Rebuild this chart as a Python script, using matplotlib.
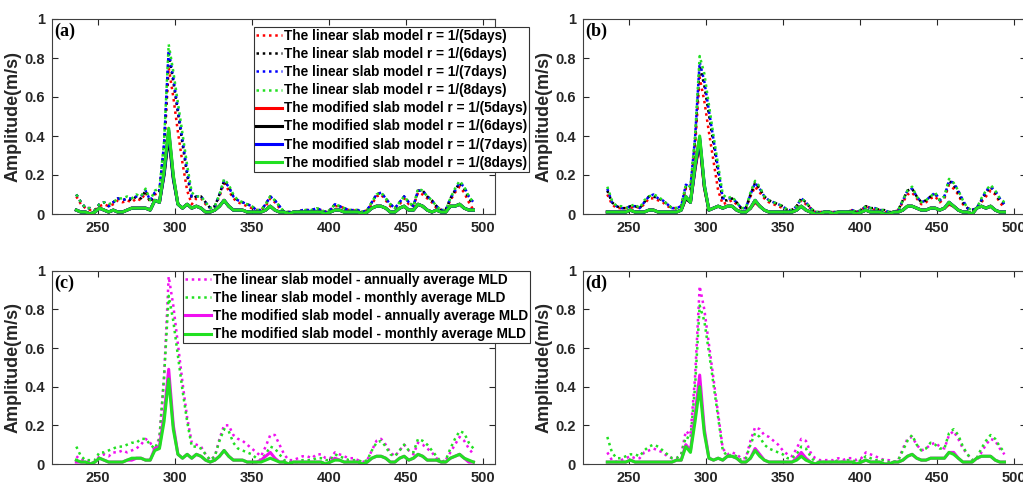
import numpy as np
import matplotlib
matplotlib.use('Agg')
import matplotlib.pyplot as plt

# sample days (x axis), every 3 days
DAYS = np.arange(236, 495, 3)

# ---- panel (a): linear slab model, r = 1/(5,6,7,8 days)
A_LIN_5 = [0.09, 0.05, 0.03, 0.02, 0.02, 0.04, 0.05, 0.04, 0.05, 0.07,
           0.06, 0.07, 0.06, 0.08, 0.07, 0.11, 0.06, 0.10, 0.11, 0.32,
           0.75, 0.60, 0.42, 0.26, 0.12, 0.05, 0.08, 0.08, 0.05, 0.03,
           0.04, 0.09, 0.16, 0.12, 0.08, 0.06, 0.05, 0.04, 0.03, 0.02,
           0.02, 0.04, 0.08, 0.06, 0.03, 0.01, 0.01, 0.01, 0.01, 0.02,
           0.02, 0.02, 0.02, 0.02, 0.01, 0.02, 0.04, 0.04, 0.03, 0.02,
           0.02, 0.01, 0.01, 0.02, 0.05, 0.09, 0.10, 0.07, 0.04, 0.03,
           0.05, 0.08, 0.05, 0.04, 0.11, 0.10, 0.08, 0.06, 0.03, 0.02,
           0.02, 0.07, 0.11, 0.14, 0.11, 0.06, 0.02]
A_LIN_6 = [0.10, 0.06, 0.03, 0.03, 0.02, 0.05, 0.06, 0.04, 0.06, 0.08,
           0.07, 0.08, 0.07, 0.09, 0.08, 0.12, 0.06, 0.11, 0.12, 0.35,
           0.82, 0.68, 0.52, 0.36, 0.20, 0.08, 0.09, 0.09, 0.06, 0.03,
           0.04, 0.10, 0.17, 0.14, 0.09, 0.07, 0.06, 0.05, 0.04, 0.02,
           0.02, 0.05, 0.09, 0.07, 0.04, 0.01, 0.01, 0.01, 0.01, 0.02,
           0.02, 0.02, 0.03, 0.02, 0.01, 0.02, 0.05, 0.04, 0.03, 0.02,
           0.02, 0.02, 0.01, 0.02, 0.06, 0.10, 0.11, 0.08, 0.05, 0.03,
           0.06, 0.09, 0.06, 0.04, 0.12, 0.12, 0.09, 0.07, 0.04, 0.02,
           0.02, 0.08, 0.12, 0.16, 0.13, 0.08, 0.05]
A_LIN_7 = [0.10, 0.06, 0.03, 0.03, 0.02, 0.05, 0.06, 0.04, 0.06, 0.08,
           0.07, 0.08, 0.08, 0.09, 0.09, 0.12, 0.07, 0.11, 0.12, 0.36,
           0.84, 0.70, 0.54, 0.38, 0.22, 0.09, 0.09, 0.09, 0.06, 0.03,
           0.04, 0.10, 0.17, 0.14, 0.09, 0.07, 0.06, 0.05, 0.04, 0.02,
           0.02, 0.05, 0.09, 0.07, 0.04, 0.01, 0.01, 0.01, 0.01, 0.02,
           0.02, 0.02, 0.03, 0.02, 0.01, 0.02, 0.05, 0.04, 0.03, 0.02,
           0.02, 0.02, 0.01, 0.02, 0.06, 0.10, 0.11, 0.08, 0.05, 0.03,
           0.06, 0.09, 0.06, 0.04, 0.12, 0.12, 0.09, 0.07, 0.04, 0.02,
           0.02, 0.08, 0.12, 0.16, 0.14, 0.09, 0.06]
A_LIN_8 = [0.10, 0.06, 0.03, 0.03, 0.02, 0.05, 0.06, 0.05, 0.06, 0.08,
           0.08, 0.09, 0.08, 0.10, 0.09, 0.13, 0.07, 0.12, 0.13, 0.37,
           0.87, 0.73, 0.57, 0.41, 0.25, 0.11, 0.09, 0.09, 0.06, 0.03,
           0.04, 0.10, 0.18, 0.15, 0.10, 0.07, 0.06, 0.05, 0.04, 0.02,
           0.02, 0.05, 0.09, 0.07, 0.04, 0.01, 0.01, 0.01, 0.01, 0.02,
           0.02, 0.02, 0.03, 0.02, 0.01, 0.02, 0.05, 0.04, 0.03, 0.02,
           0.02, 0.02, 0.01, 0.02, 0.06, 0.10, 0.11, 0.08, 0.05, 0.03,
           0.06, 0.09, 0.06, 0.04, 0.13, 0.12, 0.09, 0.07, 0.04, 0.02,
           0.02, 0.08, 0.13, 0.17, 0.14, 0.09, 0.06]

# ---- panel (a): modified slab model
A_MOD_5 = [0.02, 0.01, 0.01, 0.00, 0.01, 0.03, 0.02, 0.01, 0.02, 0.01,
           0.01, 0.02, 0.03, 0.03, 0.03, 0.03, 0.02, 0.07, 0.06, 0.21,
           0.42, 0.19, 0.05, 0.03, 0.05, 0.03, 0.04, 0.03, 0.01, 0.01,
           0.02, 0.04, 0.07, 0.04, 0.02, 0.02, 0.02, 0.01, 0.01, 0.01,
           0.01, 0.02, 0.04, 0.02, 0.01, 0.01, 0.00, 0.01, 0.01, 0.01,
           0.01, 0.01, 0.01, 0.01, 0.00, 0.01, 0.02, 0.02, 0.01, 0.01,
           0.01, 0.01, 0.00, 0.01, 0.03, 0.04, 0.04, 0.03, 0.01, 0.01,
           0.03, 0.04, 0.02, 0.02, 0.05, 0.04, 0.02, 0.01, 0.02, 0.01,
           0.01, 0.04, 0.04, 0.05, 0.03, 0.02, 0.02]
A_MOD_6 = [0.02, 0.01, 0.01, 0.00, 0.01, 0.03, 0.02, 0.01, 0.02, 0.01,
           0.01, 0.02, 0.03, 0.03, 0.03, 0.03, 0.02, 0.07, 0.06, 0.20,
           0.40, 0.18, 0.05, 0.03, 0.05, 0.03, 0.04, 0.03, 0.01, 0.01,
           0.02, 0.04, 0.07, 0.04, 0.02, 0.02, 0.02, 0.01, 0.01, 0.01,
           0.01, 0.02, 0.04, 0.02, 0.01, 0.01, 0.00, 0.01, 0.01, 0.01,
           0.01, 0.01, 0.01, 0.01, 0.00, 0.01, 0.02, 0.02, 0.01, 0.01,
           0.01, 0.01, 0.00, 0.01, 0.03, 0.04, 0.04, 0.03, 0.01, 0.01,
           0.03, 0.04, 0.02, 0.02, 0.05, 0.04, 0.02, 0.01, 0.02, 0.01,
           0.01, 0.04, 0.04, 0.05, 0.03, 0.02, 0.02]
A_MOD_7 = [0.02, 0.01, 0.01, 0.00, 0.01, 0.03, 0.02, 0.01, 0.02, 0.01,
           0.01, 0.02, 0.03, 0.03, 0.03, 0.03, 0.02, 0.07, 0.06, 0.21,
           0.43, 0.19, 0.05, 0.03, 0.05, 0.03, 0.04, 0.03, 0.01, 0.01,
           0.02, 0.04, 0.07, 0.04, 0.02, 0.02, 0.02, 0.01, 0.01, 0.01,
           0.01, 0.02, 0.04, 0.02, 0.01, 0.01, 0.00, 0.01, 0.01, 0.01,
           0.01, 0.01, 0.01, 0.01, 0.00, 0.01, 0.02, 0.02, 0.01, 0.01,
           0.01, 0.01, 0.00, 0.01, 0.03, 0.04, 0.04, 0.03, 0.01, 0.01,
           0.03, 0.04, 0.02, 0.02, 0.05, 0.04, 0.02, 0.01, 0.02, 0.01,
           0.01, 0.04, 0.04, 0.05, 0.03, 0.02, 0.02]
A_MOD_8 = [0.02, 0.01, 0.01, 0.00, 0.01, 0.03, 0.02, 0.01, 0.02, 0.01,
           0.01, 0.02, 0.03, 0.03, 0.03, 0.03, 0.02, 0.07, 0.06, 0.22,
           0.44, 0.20, 0.05, 0.03, 0.05, 0.03, 0.04, 0.03, 0.01, 0.01,
           0.02, 0.04, 0.07, 0.04, 0.02, 0.02, 0.02, 0.01, 0.01, 0.01,
           0.01, 0.02, 0.04, 0.02, 0.01, 0.01, 0.00, 0.01, 0.01, 0.01,
           0.01, 0.01, 0.01, 0.01, 0.00, 0.01, 0.02, 0.02, 0.01, 0.01,
           0.01, 0.01, 0.00, 0.01, 0.03, 0.04, 0.04, 0.03, 0.01, 0.01,
           0.03, 0.04, 0.02, 0.02, 0.05, 0.04, 0.02, 0.01, 0.02, 0.01,
           0.01, 0.04, 0.04, 0.05, 0.03, 0.02, 0.02]

# ---- panel (b): linear slab model
B_LIN_5 = [0.10, 0.05, 0.03, 0.03, 0.03, 0.03, 0.04, 0.03, 0.05, 0.08,
           0.08, 0.07, 0.06, 0.04, 0.03, 0.03, 0.04, 0.13, 0.12, 0.35,
           0.70, 0.58, 0.42, 0.27, 0.12, 0.05, 0.06, 0.07, 0.05, 0.03,
           0.03, 0.09, 0.14, 0.11, 0.08, 0.06, 0.05, 0.04, 0.03, 0.02,
           0.02, 0.04, 0.07, 0.05, 0.03, 0.01, 0.01, 0.01, 0.01, 0.01,
           0.01, 0.01, 0.01, 0.02, 0.01, 0.02, 0.04, 0.03, 0.02, 0.02,
           0.01, 0.01, 0.01, 0.02, 0.06, 0.10, 0.11, 0.08, 0.05, 0.06,
           0.08, 0.09, 0.06, 0.08, 0.15, 0.13, 0.10, 0.05, 0.03, 0.02,
           0.03, 0.06, 0.09, 0.12, 0.10, 0.06, 0.03]
B_LIN_6 = [0.12, 0.06, 0.04, 0.03, 0.03, 0.04, 0.04, 0.03, 0.06, 0.09,
           0.09, 0.08, 0.07, 0.05, 0.03, 0.03, 0.04, 0.14, 0.13, 0.38,
           0.76, 0.66, 0.51, 0.36, 0.21, 0.07, 0.07, 0.08, 0.06, 0.03,
           0.03, 0.10, 0.16, 0.13, 0.09, 0.07, 0.06, 0.05, 0.04, 0.02,
           0.02, 0.04, 0.08, 0.06, 0.03, 0.01, 0.01, 0.01, 0.01, 0.01,
           0.01, 0.01, 0.01, 0.02, 0.01, 0.02, 0.04, 0.03, 0.03, 0.02,
           0.02, 0.01, 0.01, 0.02, 0.07, 0.12, 0.13, 0.09, 0.06, 0.07,
           0.09, 0.10, 0.07, 0.09, 0.17, 0.15, 0.11, 0.06, 0.03, 0.02,
           0.03, 0.07, 0.11, 0.14, 0.11, 0.07, 0.05]
B_LIN_7 = [0.13, 0.06, 0.04, 0.03, 0.03, 0.04, 0.04, 0.03, 0.06, 0.09,
           0.10, 0.08, 0.07, 0.05, 0.03, 0.03, 0.04, 0.15, 0.14, 0.39,
           0.78, 0.68, 0.53, 0.38, 0.23, 0.08, 0.08, 0.08, 0.06, 0.03,
           0.03, 0.10, 0.16, 0.13, 0.09, 0.07, 0.06, 0.05, 0.04, 0.02,
           0.02, 0.04, 0.08, 0.06, 0.03, 0.01, 0.01, 0.01, 0.01, 0.01,
           0.01, 0.01, 0.01, 0.02, 0.01, 0.02, 0.04, 0.03, 0.03, 0.02,
           0.02, 0.01, 0.01, 0.02, 0.07, 0.12, 0.13, 0.09, 0.06, 0.07,
           0.09, 0.11, 0.07, 0.09, 0.17, 0.16, 0.12, 0.07, 0.03, 0.02,
           0.03, 0.07, 0.12, 0.14, 0.12, 0.08, 0.05]
B_LIN_8 = [0.14, 0.07, 0.04, 0.04, 0.03, 0.04, 0.05, 0.03, 0.07, 0.09,
           0.10, 0.09, 0.07, 0.05, 0.03, 0.03, 0.04, 0.15, 0.14, 0.40,
           0.81, 0.72, 0.56, 0.40, 0.25, 0.10, 0.08, 0.09, 0.06, 0.03,
           0.03, 0.11, 0.17, 0.14, 0.09, 0.07, 0.06, 0.05, 0.04, 0.02,
           0.02, 0.04, 0.08, 0.06, 0.03, 0.01, 0.01, 0.01, 0.01, 0.01,
           0.01, 0.01, 0.01, 0.02, 0.01, 0.02, 0.04, 0.03, 0.03, 0.02,
           0.02, 0.01, 0.01, 0.02, 0.07, 0.12, 0.14, 0.09, 0.06, 0.07,
           0.09, 0.11, 0.07, 0.09, 0.18, 0.16, 0.12, 0.07, 0.03, 0.02,
           0.03, 0.08, 0.12, 0.15, 0.12, 0.08, 0.06]

# ---- panel (b): modified slab model
B_MOD_5 = [0.01, 0.01, 0.01, 0.01, 0.01, 0.02, 0.01, 0.01, 0.01, 0.02,
           0.02, 0.01, 0.01, 0.01, 0.01, 0.01, 0.02, 0.08, 0.06, 0.23,
           0.37, 0.14, 0.02, 0.03, 0.04, 0.03, 0.04, 0.04, 0.02, 0.01,
           0.01, 0.03, 0.06, 0.04, 0.02, 0.01, 0.01, 0.01, 0.01, 0.01,
           0.01, 0.02, 0.04, 0.02, 0.01, 0.00, 0.00, 0.01, 0.01, 0.00,
           0.01, 0.01, 0.01, 0.01, 0.00, 0.01, 0.02, 0.01, 0.01, 0.01,
           0.00, 0.00, 0.01, 0.01, 0.02, 0.04, 0.04, 0.03, 0.02, 0.02,
           0.03, 0.03, 0.02, 0.03, 0.05, 0.04, 0.02, 0.01, 0.01, 0.00,
           0.03, 0.04, 0.03, 0.04, 0.02, 0.01, 0.01]
B_MOD_6 = [0.01, 0.01, 0.01, 0.01, 0.01, 0.02, 0.01, 0.01, 0.01, 0.02,
           0.02, 0.01, 0.01, 0.01, 0.01, 0.01, 0.02, 0.08, 0.06, 0.24,
           0.38, 0.14, 0.02, 0.03, 0.04, 0.03, 0.04, 0.04, 0.02, 0.01,
           0.01, 0.03, 0.07, 0.04, 0.02, 0.01, 0.01, 0.01, 0.01, 0.01,
           0.01, 0.02, 0.04, 0.02, 0.01, 0.00, 0.00, 0.01, 0.01, 0.00,
           0.01, 0.01, 0.01, 0.01, 0.00, 0.01, 0.02, 0.01, 0.01, 0.01,
           0.00, 0.00, 0.01, 0.01, 0.02, 0.04, 0.04, 0.03, 0.02, 0.02,
           0.03, 0.03, 0.02, 0.03, 0.06, 0.04, 0.02, 0.01, 0.01, 0.00,
           0.03, 0.04, 0.03, 0.04, 0.02, 0.01, 0.01]
B_MOD_7 = [0.01, 0.01, 0.01, 0.01, 0.01, 0.02, 0.01, 0.01, 0.01, 0.02,
           0.02, 0.01, 0.01, 0.01, 0.01, 0.01, 0.02, 0.09, 0.06, 0.24,
           0.39, 0.15, 0.02, 0.03, 0.04, 0.03, 0.04, 0.04, 0.02, 0.01,
           0.01, 0.03, 0.07, 0.04, 0.02, 0.01, 0.01, 0.01, 0.01, 0.01,
           0.01, 0.02, 0.04, 0.02, 0.01, 0.00, 0.00, 0.01, 0.01, 0.00,
           0.01, 0.01, 0.01, 0.01, 0.00, 0.01, 0.02, 0.01, 0.01, 0.01,
           0.00, 0.00, 0.01, 0.01, 0.02, 0.04, 0.04, 0.03, 0.02, 0.02,
           0.03, 0.03, 0.02, 0.03, 0.06, 0.04, 0.02, 0.01, 0.01, 0.00,
           0.03, 0.04, 0.03, 0.04, 0.02, 0.01, 0.01]
B_MOD_8 = [0.01, 0.01, 0.01, 0.01, 0.01, 0.02, 0.01, 0.01, 0.01, 0.02,
           0.02, 0.01, 0.01, 0.01, 0.01, 0.01, 0.02, 0.09, 0.06, 0.25,
           0.40, 0.15, 0.02, 0.03, 0.04, 0.03, 0.04, 0.04, 0.02, 0.01,
           0.01, 0.03, 0.07, 0.04, 0.02, 0.01, 0.01, 0.01, 0.01, 0.01,
           0.01, 0.02, 0.04, 0.02, 0.01, 0.00, 0.00, 0.01, 0.01, 0.00,
           0.01, 0.01, 0.01, 0.01, 0.00, 0.01, 0.02, 0.01, 0.01, 0.01,
           0.00, 0.00, 0.01, 0.01, 0.02, 0.04, 0.04, 0.03, 0.02, 0.02,
           0.03, 0.03, 0.02, 0.03, 0.06, 0.04, 0.02, 0.01, 0.01, 0.00,
           0.03, 0.04, 0.03, 0.04, 0.02, 0.01, 0.01]

# ---- panel (c): annually / monthly average MLD
C_LIN_ANN = [0.04, 0.02, 0.02, 0.01, 0.01, 0.04, 0.05, 0.04, 0.06, 0.06,
             0.07, 0.06, 0.07, 0.08, 0.10, 0.13, 0.11, 0.07, 0.14, 0.45,
             0.97, 0.82, 0.62, 0.42, 0.24, 0.11, 0.10, 0.09, 0.05, 0.02,
             0.04, 0.13, 0.20, 0.20, 0.15, 0.13, 0.12, 0.10, 0.08, 0.06,
             0.04, 0.09, 0.15, 0.15, 0.10, 0.05, 0.02, 0.02, 0.03, 0.04,
             0.04, 0.03, 0.05, 0.05, 0.03, 0.03, 0.06, 0.05, 0.04, 0.03,
             0.03, 0.02, 0.01, 0.02, 0.07, 0.12, 0.13, 0.10, 0.06, 0.04,
             0.07, 0.10, 0.07, 0.05, 0.11, 0.10, 0.08, 0.06, 0.03, 0.01,
             0.02, 0.06, 0.10, 0.14, 0.12, 0.08, 0.05]
C_LIN_MON = [0.09, 0.04, 0.02, 0.02, 0.02, 0.06, 0.06, 0.07, 0.08, 0.09,
             0.09, 0.10, 0.11, 0.11, 0.13, 0.13, 0.10, 0.08, 0.13, 0.45,
             0.87, 0.74, 0.56, 0.38, 0.22, 0.09, 0.09, 0.08, 0.05, 0.02,
             0.04, 0.12, 0.18, 0.17, 0.11, 0.08, 0.07, 0.06, 0.05, 0.03,
             0.02, 0.05, 0.09, 0.08, 0.05, 0.02, 0.01, 0.01, 0.01, 0.02,
             0.02, 0.02, 0.03, 0.03, 0.02, 0.02, 0.05, 0.04, 0.03, 0.02,
             0.02, 0.02, 0.01, 0.02, 0.07, 0.11, 0.12, 0.09, 0.05, 0.04,
             0.07, 0.10, 0.07, 0.06, 0.13, 0.12, 0.10, 0.07, 0.04, 0.01,
             0.02, 0.08, 0.13, 0.17, 0.16, 0.11, 0.08]
C_MOD_ANN = [0.01, 0.01, 0.01, 0.00, 0.01, 0.03, 0.02, 0.01, 0.01, 0.01,
             0.01, 0.02, 0.02, 0.03, 0.03, 0.02, 0.02, 0.08, 0.09, 0.25,
             0.49, 0.20, 0.05, 0.03, 0.05, 0.03, 0.05, 0.04, 0.02, 0.01,
             0.02, 0.04, 0.07, 0.04, 0.02, 0.02, 0.02, 0.01, 0.01, 0.01,
             0.02, 0.04, 0.06, 0.03, 0.01, 0.01, 0.00, 0.01, 0.01, 0.01,
             0.01, 0.01, 0.01, 0.01, 0.00, 0.01, 0.03, 0.02, 0.01, 0.01,
             0.01, 0.01, 0.00, 0.01, 0.03, 0.04, 0.04, 0.03, 0.01, 0.01,
             0.03, 0.04, 0.02, 0.03, 0.05, 0.04, 0.02, 0.02, 0.02, 0.01,
             0.01, 0.03, 0.04, 0.05, 0.03, 0.01, 0.01]
C_MOD_MON = [0.02, 0.01, 0.01, 0.00, 0.01, 0.03, 0.02, 0.01, 0.01, 0.01,
             0.01, 0.02, 0.03, 0.03, 0.03, 0.02, 0.02, 0.07, 0.08, 0.22,
             0.44, 0.18, 0.05, 0.03, 0.05, 0.03, 0.05, 0.04, 0.02, 0.01,
             0.02, 0.04, 0.07, 0.04, 0.02, 0.02, 0.02, 0.01, 0.01, 0.01,
             0.01, 0.02, 0.03, 0.02, 0.01, 0.01, 0.00, 0.01, 0.01, 0.01,
             0.01, 0.01, 0.01, 0.01, 0.00, 0.01, 0.02, 0.02, 0.01, 0.01,
             0.01, 0.01, 0.00, 0.01, 0.03, 0.04, 0.04, 0.03, 0.01, 0.01,
             0.03, 0.04, 0.02, 0.03, 0.05, 0.04, 0.02, 0.02, 0.02, 0.01,
             0.01, 0.03, 0.04, 0.05, 0.03, 0.02, 0.01]

# ---- panel (d): annually / monthly average MLD
D_LIN_ANN = [0.06, 0.02, 0.01, 0.02, 0.03, 0.04, 0.03, 0.03, 0.06, 0.07,
             0.08, 0.07, 0.06, 0.04, 0.03, 0.03, 0.05, 0.17, 0.15, 0.45,
             0.92, 0.80, 0.62, 0.44, 0.26, 0.08, 0.05, 0.06, 0.05, 0.03,
             0.03, 0.12, 0.19, 0.18, 0.15, 0.14, 0.12, 0.10, 0.07, 0.05,
             0.04, 0.08, 0.13, 0.12, 0.06, 0.03, 0.02, 0.02, 0.02, 0.02,
             0.03, 0.02, 0.03, 0.03, 0.02, 0.03, 0.06, 0.05, 0.04, 0.03,
             0.02, 0.02, 0.01, 0.02, 0.08, 0.13, 0.14, 0.10, 0.07, 0.08,
             0.10, 0.11, 0.09, 0.08, 0.15, 0.17, 0.13, 0.08, 0.05, 0.02,
             0.02, 0.06, 0.10, 0.13, 0.12, 0.08, 0.05]
D_LIN_MON = [0.14, 0.06, 0.03, 0.03, 0.04, 0.05, 0.05, 0.04, 0.07, 0.09,
             0.10, 0.09, 0.07, 0.05, 0.03, 0.03, 0.05, 0.14, 0.13, 0.40,
             0.82, 0.74, 0.58, 0.41, 0.24, 0.07, 0.04, 0.05, 0.04, 0.02,
             0.03, 0.10, 0.16, 0.14, 0.10, 0.08, 0.07, 0.06, 0.05, 0.03,
             0.03, 0.05, 0.09, 0.08, 0.04, 0.01, 0.01, 0.01, 0.01, 0.01,
             0.02, 0.01, 0.02, 0.02, 0.01, 0.02, 0.04, 0.03, 0.02, 0.02,
             0.02, 0.01, 0.01, 0.02, 0.07, 0.12, 0.15, 0.10, 0.07, 0.08,
             0.11, 0.10, 0.08, 0.08, 0.16, 0.18, 0.15, 0.09, 0.05, 0.02,
             0.03, 0.08, 0.12, 0.15, 0.13, 0.09, 0.06]
D_MOD_ANN = [0.01, 0.01, 0.01, 0.01, 0.01, 0.02, 0.01, 0.01, 0.01, 0.01,
             0.01, 0.01, 0.01, 0.01, 0.01, 0.02, 0.02, 0.10, 0.07, 0.25,
             0.46, 0.18, 0.03, 0.02, 0.03, 0.02, 0.04, 0.04, 0.03, 0.01,
             0.01, 0.03, 0.08, 0.05, 0.02, 0.01, 0.01, 0.01, 0.01, 0.01,
             0.01, 0.03, 0.06, 0.03, 0.01, 0.00, 0.01, 0.01, 0.01, 0.01,
             0.01, 0.01, 0.01, 0.01, 0.00, 0.01, 0.02, 0.01, 0.01, 0.01,
             0.00, 0.00, 0.01, 0.01, 0.02, 0.04, 0.05, 0.03, 0.02, 0.02,
             0.03, 0.03, 0.03, 0.03, 0.06, 0.06, 0.03, 0.01, 0.01, 0.01,
             0.03, 0.04, 0.04, 0.04, 0.02, 0.01, 0.01]
D_MOD_MON = [0.01, 0.01, 0.01, 0.01, 0.01, 0.02, 0.01, 0.01, 0.01, 0.01,
             0.01, 0.01, 0.01, 0.01, 0.01, 0.02, 0.02, 0.09, 0.06, 0.22,
             0.40, 0.16, 0.03, 0.02, 0.03, 0.02, 0.04, 0.04, 0.03, 0.01,
             0.01, 0.03, 0.07, 0.04, 0.02, 0.01, 0.01, 0.01, 0.01, 0.01,
             0.01, 0.02, 0.04, 0.02, 0.01, 0.00, 0.01, 0.01, 0.01, 0.01,
             0.01, 0.01, 0.01, 0.01, 0.00, 0.01, 0.02, 0.01, 0.01, 0.01,
             0.00, 0.00, 0.01, 0.01, 0.02, 0.04, 0.05, 0.03, 0.02, 0.02,
             0.03, 0.03, 0.03, 0.03, 0.06, 0.05, 0.03, 0.01, 0.01, 0.01,
             0.03, 0.04, 0.04, 0.04, 0.02, 0.01, 0.01]

RATES = ['5days', '6days', '7days', '8days']
RATE_COLORS = ['#ff0000', '#000000', '#0000ff', '#22e022']
MLD_NAMES = ['annually average MLD', 'monthly average MLD']
MLD_COLORS = ['#f010f0', '#22e022']

X_TICKS = [250, 300, 350, 400, 450, 500]
Y_TICKS = [0, 0.2, 0.4, 0.6, 0.8, 1]
Y_TICK_LABELS = ['0', '0.2', '0.4', '0.6', '0.8', '1']

W, H = 1023, 483
DOT = (0, (1, 1.5))

plt.rcParams['font.family'] = ['Liberation Sans', 'DejaVu Sans']
plt.rcParams['font.weight'] = 'bold'


def setup_axes(ax, tag):
    ax.set_xlim(220, 508)
    ax.set_ylim(0, 1)
    ax.set_xticks(X_TICKS)
    ax.set_yticks(Y_TICKS)
    ax.set_yticklabels(Y_TICK_LABELS)
    ax.tick_params(direction='in', top=True, right=True, length=4, width=0.8,
                   labelsize=10.5, colors='#262626')
    ax.tick_params(axis='x', pad=5)
    ax.tick_params(axis='y', pad=5)
    for sp in ax.spines.values():
        sp.set_color('#404040')
        sp.set_linewidth(0.8)
    ax.set_ylabel('Amplitude(m/s)', fontsize=13, fontweight='bold', color='#262626')
    ax.yaxis.set_label_coords(-0.069, 0.5)
    ax.text(0.006, 0.98, tag, transform=ax.transAxes, va='top', ha='left',
            family='Liberation Serif', fontweight='bold', fontsize=13)


def plot_rates(ax, lin, mod):
    for vals, c, r in zip(lin, RATE_COLORS, RATES):
        ax.plot(DAYS, vals, color=c, ls=DOT, lw=1.8,
                label='The linear slab model r = 1/(' + r + ')')
    for vals, c, r in zip(mod, RATE_COLORS, RATES):
        ax.plot(DAYS, vals, color=c, ls='-', lw=2.2,
                label='The modified slab model r = 1/(' + r + ')')


def plot_mld(ax, lin, mod):
    for vals, c, n in zip(lin, MLD_COLORS, MLD_NAMES):
        ax.plot(DAYS, vals, color=c, ls=DOT, lw=1.8,
                label='The linear slab model - ' + n)
    for vals, c, n in zip(mod, MLD_COLORS, MLD_NAMES):
        ax.plot(DAYS, vals, color=c, ls='-', lw=2.2,
                label='The modified slab model - ' + n)


def add_legend(ax, fig, left_px, top_px):
    leg = ax.legend(loc='upper left', bbox_to_anchor=(left_px / W, 1 - top_px / H),
                    bbox_transform=fig.transFigure, borderaxespad=0,
                    prop={'weight': 'bold', 'size': 9.8}, fancybox=False,
                    framealpha=1, edgecolor='#333333', borderpad=0.15,
                    labelspacing=0.3, handlelength=1.9, handletextpad=0.15)
    leg.get_frame().set_linewidth(0.8)


fig = plt.figure(figsize=(W / 100, H / 100), dpi=100)
ax_a = fig.add_axes([51.7 / W, 1 - 214 / H, 443.3 / W, 195 / H])
ax_b = fig.add_axes([582.7 / W, 1 - 214 / H, 443.3 / W, 195 / H])
ax_c = fig.add_axes([51.7 / W, 1 - 464 / H, 443.3 / W, 193.3 / H])
ax_d = fig.add_axes([582.7 / W, 1 - 464 / H, 443.3 / W, 193.3 / H])

plot_rates(ax_a, [A_LIN_5, A_LIN_6, A_LIN_7, A_LIN_8], [A_MOD_5, A_MOD_6, A_MOD_7, A_MOD_8])
plot_rates(ax_b, [B_LIN_5, B_LIN_6, B_LIN_7, B_LIN_8], [B_MOD_5, B_MOD_6, B_MOD_7, B_MOD_8])
plot_mld(ax_c, [C_LIN_ANN, C_LIN_MON], [C_MOD_ANN, C_MOD_MON])
plot_mld(ax_d, [D_LIN_ANN, D_LIN_MON], [D_MOD_ANN, D_MOD_MON])

for ax, tag in zip([ax_a, ax_b, ax_c, ax_d], ['(a)', '(b)', '(c)', '(d)']):
    setup_axes(ax, tag)

add_legend(ax_a, fig, 254, 27)
add_legend(ax_c, fig, 183, 271)

fig.savefig('out.png', dpi=100)
